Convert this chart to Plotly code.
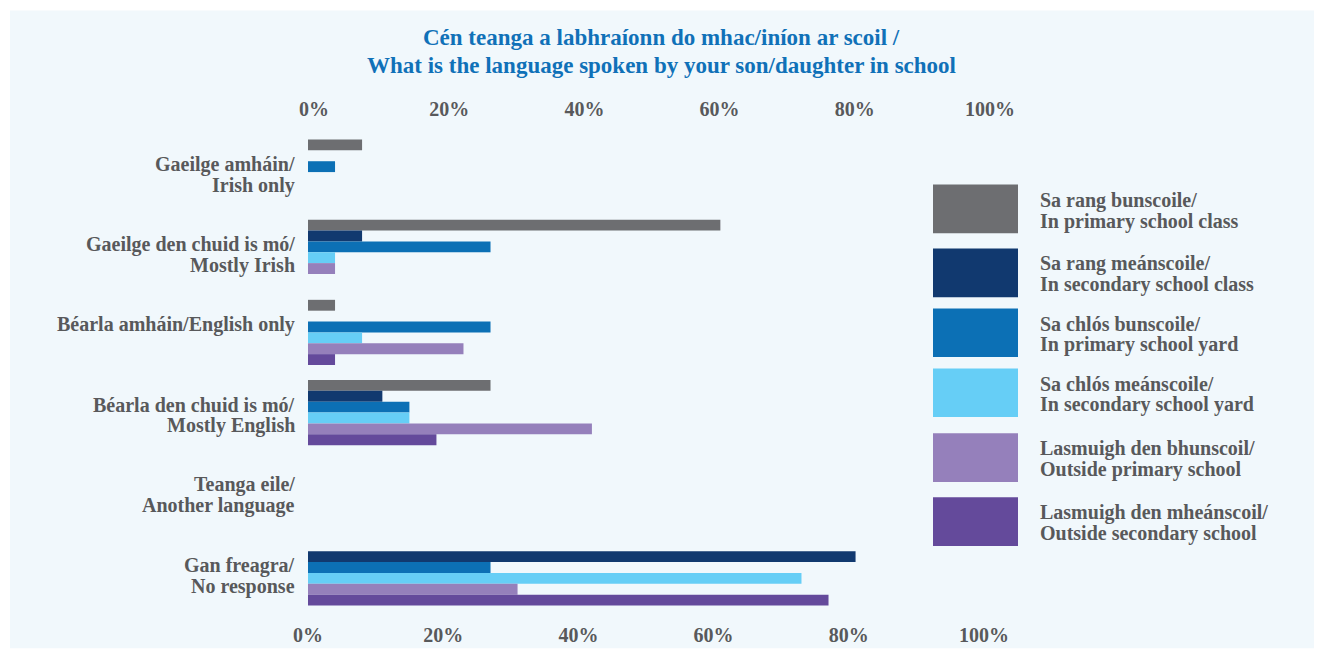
import plotly.graph_objects as go

categories = [
    "Gaeilge amháin/Irish only",
    "Gaeilge den chuid is mó/Mostly Irish",
    "Béarla amháin/English only",
    "Béarla den chuid is mó/Mostly English",
    "Teanga eile/Another language",
    "Gan freagra/No response",
]
# how each category label is broken into lines
category_lines = [
    ["Gaeilge amháin/", "Irish only"],
    ["Gaeilge den chuid is mó/", "Mostly Irish"],
    ["Béarla amháin/English only"],
    ["Béarla den chuid is mó/", "Mostly English"],
    ["Teanga eile/", "Another language"],
    ["Gan freagra/", "No response"],
]

series_names = [
    "Sa rang bunscoile/In primary school class",
    "Sa rang meánscoile/In secondary school class",
    "Sa chlós bunscoile/In primary school yard",
    "Sa chlós meánscoile/In secondary school yard",
    "Lasmuigh den bhunscoil/Outside primary school",
    "Lasmuigh den mheánscoil/Outside secondary school",
]
series_lines = [
    ["Sa rang bunscoile/", "In primary school class"],
    ["Sa rang meánscoile/", "In secondary school class"],
    ["Sa chlós bunscoile/", "In primary school yard"],
    ["Sa chlós meánscoile/", "In secondary school yard"],
    ["Lasmuigh den bhunscoil/", "Outside primary school"],
    ["Lasmuigh den mheánscoil/", "Outside secondary school"],
]

primary_class = [8, 61, 4, 27, 0, 0]
secondary_class = [0, 8, 0, 11, 0, 81]
primary_yard = [4, 27, 27, 15, 0, 27]
secondary_yard = [0, 4, 8, 15, 0, 73]
outside_primary = [0, 4, 23, 42, 0, 31]
outside_secondary = [0, 0, 4, 19, 0, 77]

series_values = [primary_class, secondary_class, primary_yard,
                 secondary_yard, outside_primary, outside_secondary]

colors = ["#6D6E71", "#11396F", "#0C70B5", "#66CEF6", "#9580BB", "#644A9B"]

tick_vals = [0, 20, 40, 60, 80, 100]
tick_text = ["0%", "20%", "40%", "60%", "80%", "100%"]

title_lines = ["Cén teanga a labhraíonn do mhac/iníon ar scoil /",
               "What is the language spoken by your son/daughter in school"]

# ---- layout geometry (screen pixels; page body has an 8px margin) ----
OFF = 8
W, H = 1314, 644
L, R, T, B = 308, 984, 131.5, 612.7
PW, PH = R - L, B - T

def px_x(x):
    return (x - L) / PW

def px_y(y):
    return (B - y) / PH

FONT = "Liberation Serif"
GREY = "#58595B"
BLUE = "#1071B8"

def mid_for_baseline(baseline, size):
    # annotation (yanchor middle) centre for a desired text baseline
    return baseline - 0.34 * size

fig = go.Figure()
for name, vals, col in zip(series_names, series_values, colors):
    fig.add_trace(go.Bar(
        y=categories, x=vals, orientation="h", name=name,
        marker=dict(color=col, line=dict(width=0)), showlegend=False,
    ))

# invisible trace for the top axis
fig.add_trace(go.Scatter(x=[0, 100], y=[categories[0], categories[0]],
                         xaxis="x2", mode="none", showlegend=False,
                         hoverinfo="skip"))

shapes = [dict(type="rect", xref="paper", yref="paper",
               x0=px_x(10), x1=px_x(1340), y0=px_y(648), y1=px_y(10),
               fillcolor="#F1F8FC", line=dict(width=0), layer="below")]
annotations = []

# title
TS = 23
for txt, base in zip(title_lines, [44.5, 73]):
    annotations.append(dict(xref="paper", yref="paper",
                            x=px_x(661), y=px_y(mid_for_baseline(base, TS)),
                            xanchor="center", yanchor="middle", text=txt,
                            showarrow=False,
                            font=dict(family=FONT, size=TS, color=BLUE,
                                      weight="bold")))

# category labels (line 1 baseline at group centre, next line +21px)
CS = 20
for cat, lines in zip(categories, category_lines):
    for i, txt in enumerate(lines):
        base_off = 21 * i - 1
        annotations.append(dict(xref="paper", yref="y", x=px_x(297), y=cat,
                                xanchor="right", yanchor="middle", text=txt,
                                showarrow=False,
                                yshift=-(base_off - 0.34 * CS),
                                font=dict(family=FONT, size=CS, color=GREY,
                                          weight="bold")))

# legend
LS = 20
sw_top = [184, 248, 308, 368, 433, 497]
sw_h = 48.7
for lines, col, top in zip(series_lines, colors, sw_top):
    shapes.append(dict(type="rect", xref="paper", yref="paper",
                       x0=px_x(933), x1=px_x(1018),
                       y0=px_y(top + sw_h), y1=px_y(top),
                       fillcolor=col, line=dict(width=0)))
    centre = top + sw_h / 2 - 2
    for i, txt in enumerate(lines):
        annotations.append(dict(xref="paper", yref="paper",
                                x=px_x(1038), y=px_y(mid_for_baseline(centre + 21 * i, LS)),
                                xanchor="left", yanchor="middle", align="left",
                                text=txt, showarrow=False,
                                font=dict(family=FONT, size=LS, color=GREY,
                                          weight="bold")))

axis_font = dict(family=FONT, size=20, color=GREY, weight="bold")

fig.update_layout(
    width=W, height=H,
    margin=dict(l=L - OFF, r=W - (R - OFF), t=T - OFF, b=H - (B - OFF),
                autoexpand=False),
    paper_bgcolor="white", plot_bgcolor="rgba(0,0,0,0)",
    barmode="group", bargap=0.187, bargroupgap=0,
    xaxis=dict(range=[0, 100], tickvals=tick_vals, ticktext=tick_text,
               showgrid=False, zeroline=False, showline=False, ticks="",
               tickfont=axis_font, ticklabelstandoff=8, automargin=False),
    xaxis2=dict(range=[0, 100], tickvals=tick_vals, ticktext=tick_text,
                overlaying="x", side="top", showgrid=False, zeroline=False,
                showline=False, ticks="", tickfont=axis_font,
                ticklabelshift=6, ticklabelstandoff=11, automargin=False),
    yaxis=dict(autorange="reversed", showgrid=False, zeroline=False,
               showline=False, ticks="", showticklabels=False,
               automargin=False),
    shapes=shapes, annotations=annotations,
)

fig.write_html("out.html")
